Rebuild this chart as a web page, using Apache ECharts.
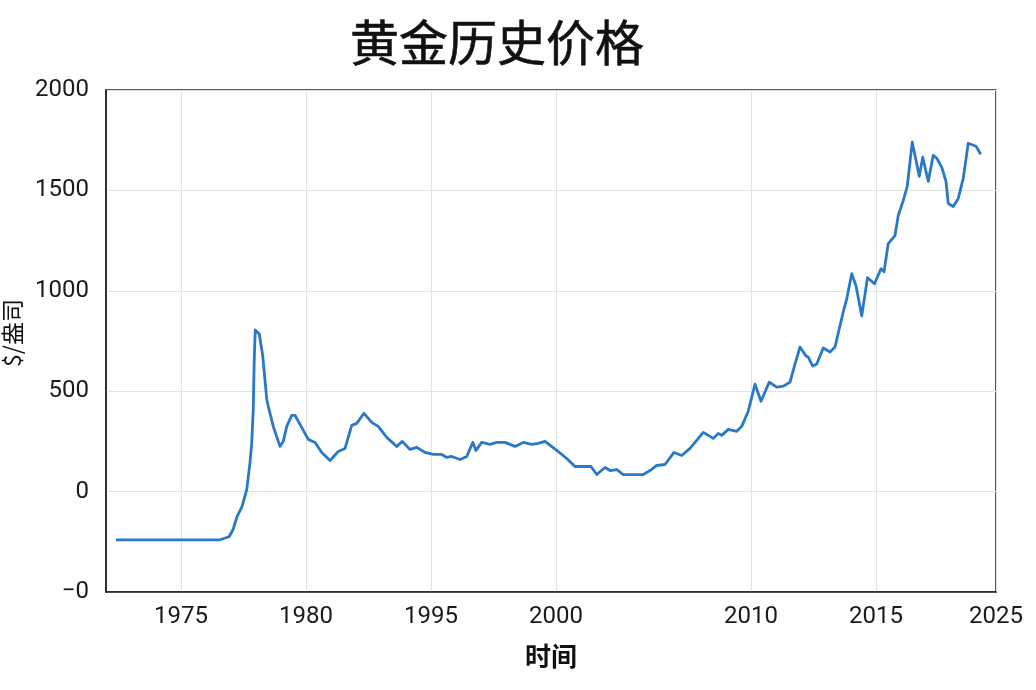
<!DOCTYPE html>
<html>
<head>
<meta charset="utf-8">
<script src="https://cdn.jsdelivr.net/npm/echarts@6/dist/echarts.min.js"></script>
<style>
  html, body { margin: 0; padding: 0; background: #fff; }
  #chart { width: 1036px; height: 690px; }
</style>
</head>
<body>
<div id="chart"></div>
<script>
// --- DATA ---
const TITLE = "黄金历史价格";
const X_NAME = "时间";
const Y_NAME = "$/盎司";

// vị trí & nhãn trục X (nhãn không đều như ảnh gốc)
const X_MIN = 1972;
const X_MAX = 2007.6;
const TICK_POS = [1975, 1980, 1985, 1990, 1997.8, 2002.8, 2007.6];
const TICK_LABELS = ["1975", "1980", "1995", "2000", "2010", "2015", "2025"];

const Y_TICKS = [-500, 0, 500, 1000, 1500, 2000];
const Y_LABELS = ["−0", "0", "500", "1000", "1500", "2000"];

const TIMES = [
  1972.4, 1976.56, 1976.92, 1977.08, 1977.24, 1977.44, 1977.63, 1977.76, 1977.83, 1977.89,
  1977.93, 1977.97, 1978.13, 1978.27, 1978.43, 1978.49, 1978.69, 1978.96, 1979.09, 1979.23,
  1979.43, 1979.56, 1979.76, 1980.09, 1980.36, 1980.63, 1980.96, 1981.29, 1981.56, 1981.83,
  1982.03, 1982.32, 1982.63, 1982.89, 1983.23, 1983.63, 1983.85, 1984.16, 1984.43, 1984.76,
  1985.09, 1985.43, 1985.63, 1985.83, 1986.16, 1986.43, 1986.67, 1986.8, 1987.03, 1987.36,
  1987.63, 1987.96, 1988.36, 1988.69, 1989.03, 1989.29, 1989.56, 1990.03, 1990.43, 1990.76,
  1991.09, 1991.4, 1991.63, 1991.96, 1992.16, 1992.43, 1992.69, 1993.09, 1993.49, 1993.76,
  1994.03, 1994.36, 1994.72, 1995.03, 1995.36, 1995.56, 1995.89, 1996.29, 1996.49, 1996.63,
  1996.89, 1997.23, 1997.43, 1997.69, 1997.96, 1998.2, 1998.53, 1998.83, 1999.09, 1999.36,
  1999.56, 1999.76, 2000.0, 2000.09, 2000.27, 2000.43, 2000.69, 2000.96, 2001.16, 2001.49,
  2001.63, 2001.83, 2002.0, 2002.23, 2002.46, 2002.74, 2003.0, 2003.12, 2003.29, 2003.56,
  2003.69, 2003.89, 2004.05, 2004.25, 2004.4, 2004.53, 2004.67, 2004.89, 2005.09, 2005.23,
  2005.43, 2005.6, 2005.69, 2005.89, 2006.09, 2006.29, 2006.49, 2006.8, 2006.99
];
const PRICES = [
  -240, -240, -225, -190, -125, -75, 10, 145, 245, 410,
  660, 805, 785, 675, 460, 425, 325, 225, 250, 325,
  380, 380, 335, 260, 245, 195, 155, 200, 215, 330,
  340, 390, 345, 325, 270, 225, 250, 210, 220, 195,
  185, 185, 170, 175, 160, 175, 245, 205, 245, 235,
  245, 245, 225, 245, 235, 240, 250, 205, 165, 125,
  125, 125, 85, 120, 105, 110, 85, 85, 85, 105,
  130, 135, 195, 180, 215, 245, 295, 265, 290, 280,
  310, 300, 325, 400, 535, 450, 545, 520, 525, 545,
  635, 720, 675, 670, 625, 635, 715, 695, 720, 895,
  960, 1085, 1025, 875, 1065, 1035, 1110, 1095, 1235, 1275,
  1375, 1450, 1520, 1740, 1650, 1570, 1665, 1545, 1675, 1660,
  1615, 1545, 1435, 1420, 1460, 1560, 1735, 1720, 1680
];

const FONT = 'Roboto, "Noto Sans CJK SC", sans-serif';
const CJK = '"Noto Sans CJK SC", sans-serif';

function xLabel(v) {
  let best = 0;
  TICK_POS.forEach((p, i) => {
    if (Math.abs(p - v) < Math.abs(TICK_POS[best] - v)) best = i;
  });
  return TICK_LABELS[best];
}

function yLabel(v) {
  const i = Y_TICKS.indexOf(v);
  return i >= 0 ? Y_LABELS[i] : String(v);
}

const chart = echarts.init(document.getElementById("chart"));

chart.setOption({
  animation: false,
  backgroundColor: "#fff",
  textStyle: { fontFamily: FONT },
  title: {
    text: TITLE,
    left: 345,
    top: 13,
    textStyle: {
      fontFamily: CJK,
      fontSize: 49,
      fontWeight: "normal",
      color: "#111",
      textBorderColor: "#111",
      textBorderWidth: 0.6,
    },
  },
  grid: {
    left: 106,
    right: 40,
    top: 90,
    bottom: 98,
    containLabel: false,
    outerBoundsMode: "none",
    show: true,
    borderColor: "#222",
    borderWidth: 1.5,
  },
  xAxis: {
    type: "value",
    min: X_MIN,
    max: X_MAX,
    name: X_NAME,
    nameLocation: "middle",
    nameGap: 51,
    nameTextStyle: { fontSize: 26, fontWeight: "bold", color: "#111", fontFamily: CJK },
    axisLine: { show: true, onZero: false, lineStyle: { color: "#222", width: 1.5 } },
    axisTick: { show: false, customValues: TICK_POS },
    axisLabel: {
      customValues: TICK_POS,
      formatter: xLabel,
      fontSize: 24,
      color: "#1a1a1a",
      margin: 13,
    },
    splitLine: { show: true, lineStyle: { color: "#e3e3e3", width: 1 } },
  },
  yAxis: {
    type: "value",
    min: -500,
    max: 2000,
    interval: 500,
    name: Y_NAME,
    nameLocation: "middle",
    nameRotate: 90,
    nameGap: 82,
    nameTextStyle: { fontSize: 23, color: "#111", fontFamily: CJK, padding: [0, 0, 0, 16] },
    axisLine: { show: true, onZero: false, lineStyle: { color: "#222", width: 1.5 } },
    axisTick: { show: false },
    axisLabel: { formatter: yLabel, fontSize: 24, color: "#1a1a1a", margin: 17 },
    splitLine: { show: true, lineStyle: { color: "#e3e3e3", width: 1 } },
  },
  series: [
    {
      type: "line",
      data: TIMES.map((t, i) => [t, PRICES[i]]),
      showSymbol: false,
      smooth: false,
      lineStyle: { color: "#2a78c8", width: 2.8, join: "round" },
      itemStyle: { color: "#2a78c8" },
    },
  ],
});
</script>
</body>
</html>
